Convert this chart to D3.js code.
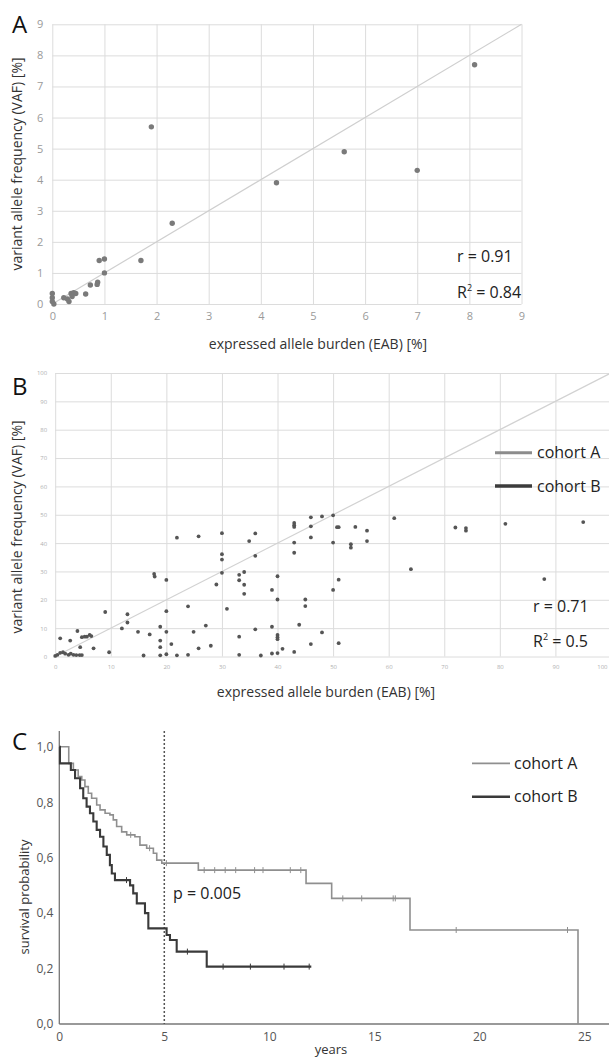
<!DOCTYPE html>
<html><head><meta charset="utf-8">
<script src="https://cdn.jsdelivr.net/npm/d3@7"></script>
<style>body{margin:0;background:#fff} svg{display:block} text{font-family:'Open Sans',sans-serif}</style>
</head><body><svg id="c" width="609" height="1059"></svg>
<script>
// ---------- Panel A data ----------
const aEAB = [8.1,1.9,5.6,7.0,4.3,2.3,1.7,0.9,1.0,1.0,0.87,0.86,0.73,0.64,0,0,0,0.03,0.22,0.29,0.32,0.36,0.41,0.45,0.38];
const aVAF = [7.7,5.7,4.9,4.3,3.9,2.6,1.4,1.4,1.45,1.0,0.7,0.63,0.61,0.32,0.34,0.2,0.08,0,0.2,0.16,0.08,0.34,0.36,0.34,0.24];
const aTicks = [0,1,2,3,4,5,6,7,8,9];

// ---------- Panel B data ----------
const bEAB = [0.9,2.7,4.0,4.5,4.8,5.3,5.7,6.2,6.5,6.9,0,0.4,0.9,1.4,1.8,2.4,2.8,3.3,3.8,4.4,4.8,
  9.0,9.7,12.0,13.0,13.0,14.9,15.9,17.0,17.8,17.9,18.9,18.9,18.9,18.9,20.0,20.0,20.0,20.0,20.9,21.9,21.9,
  23.9,23.9,24.9,25.8,25.8,27.1,28.0,29.0,30.0,30.0,30.0,30.0,30.9,33.1,33.1,33.1,33.1,34.0,34.0,34.0,34.9,
  36.0,36.0,36.0,37.0,39.0,39.0,39.0,40.0,40.0,40.0,40.0,40.0,40.0,40.9,43.0,43.0,43.0,43.0,43.0,43.0,43.9,
  45.0,45.0,46.0,46.0,46.0,46.0,48.0,48.0,50.0,50.0,50.0,50.7,51.0,51.0,51.0,53.2,53.2,54.0,56.1,56.1,
  61.0,64.0,72.0,73.9,73.9,81.0,88.0,95.0];
const bVAF = [6.4,5.6,9.0,3.3,6.8,7.0,7.0,7.6,7.2,2.9,0.2,0.6,1.3,1.5,1.0,0.6,1.0,0.6,0.5,0.5,0.5,
  15.7,1.5,9.9,14.9,12.0,8.7,0.35,7.8,29.1,28.2,10.5,5.6,3.3,0.4,27.0,16.0,8.7,0.8,4.4,41.9,0.4,
  17.7,0.6,8.7,42.4,2.9,10.9,3.8,25.4,43.5,36.1,34.2,29.5,16.8,28.8,26.9,7.0,0.6,29.8,25.3,22.1,40.7,
  43.4,35.5,9.6,0.35,23.5,10.5,1.05,28.3,20.1,7.6,6.8,6.1,1.2,2.7,47.1,46.3,45.7,40.2,36.6,1.6,11.2,
  20.1,17.8,49.1,45.9,42.0,4.4,49.4,8.5,49.8,40.2,23.5,45.6,45.6,27.1,4.7,39.6,38.4,45.7,44.4,40.7,
  48.8,30.8,45.5,45.3,44.4,46.8,27.3,47.4];
const bTicks = [0,10,20,30,40,50,60,70,80,90,100];

// ---------- Panel C data (Kaplan-Meier steps) ----------
const cohortA_time = [0,0.45,0.67,0.9,1.07,1.22,1.38,1.54,1.78,1.94,2.18,2.41,2.57,2.73,2.97,3.21,3.6,3.84,4.16,4.48,4.64,4.88,6.62,11.75,12.97,16.7,24.7];
const cohortA_surv = [1.0,0.94,0.916,0.892,0.88,0.856,0.832,0.814,0.79,0.772,0.76,0.754,0.736,0.712,0.693,0.682,0.675,0.645,0.634,0.616,0.591,0.58,0.555,0.507,0.453,0.339,0.0];
const cohortA_censor = [3.4,4.3,5.1,6.9,7.4,7.9,8.4,9.3,9.7,11.0,11.5,13.5,14.4,15.9,16.0,18.9,24.2];
const cohortB_time = [0,0.03,0.55,0.75,0.99,1.14,1.3,1.46,1.62,1.78,1.94,2.1,2.26,2.41,2.5,2.65,3.37,3.52,3.69,4.08,4.24,5.11,5.27,5.59,7.02,12.0];
const cohortB_surv = [1.0,0.94,0.916,0.886,0.85,0.814,0.784,0.76,0.73,0.70,0.675,0.64,0.61,0.573,0.543,0.519,0.50,0.471,0.435,0.40,0.345,0.321,0.303,0.261,0.207,0.207];
const cohortB_censor = [3.2,6.1,7.8,9.1,10.7,11.9];
const cTicksY = [0,0.2,0.4,0.6,0.8,1.0];
const cTicksX = [0,5,10,15,20,25];

const svg = d3.select('#c');
const GRID = '#dcdcdc';

function styleGrid(g, labelColor, fs){
  g.select('.domain').remove();
  g.selectAll('.tick line').attr('stroke', GRID);
  g.selectAll('.tick text').attr('fill', labelColor).attr('font-size', fs).attr('font-family','Open Sans, sans-serif');
}

// ================= Panel A =================
const xA = d3.scaleLinear().domain([0,9]).range([52.3,521.5]);
const yA = d3.scaleLinear().domain([0,9]).range([304,24.3]);
svg.append('g').attr('transform','translate(52.3,0)')
  .call(d3.axisLeft(yA).tickValues(aTicks).tickSize(-(521.5-52.3)).tickPadding(9))
  .call(g=>styleGrid(g,'#9a9a9a',11));
svg.append('g').attr('transform','translate(0,304)')
  .call(d3.axisBottom(xA).tickValues(aTicks).tickSize(-(304-24.3)).tickPadding(8))
  .call(g=>styleGrid(g,'#9a9a9a',11));
svg.append('line').attr('x1',xA(0)).attr('y1',yA(0)).attr('x2',xA(9)).attr('y2',yA(9))
  .attr('stroke','#cfcfcf').attr('stroke-width',1.2);
svg.append('g').selectAll('circle').data(aEAB).join('circle')
  .attr('cx',(d,i)=>xA(d)).attr('cy',(d,i)=>yA(aVAF[i])).attr('r',2.7).attr('fill','#7a7a7a');
svg.append('text').attr('x',12).attr('y',33).attr('font-size',24).attr('fill','#111').text('A');
svg.append('text').attr('transform','translate(22,164) rotate(-90)').attr('text-anchor','middle')
  .attr('font-size',14).attr('fill','#333').text('variant allele frequency (VAF) [%]');
svg.append('text').attr('x',318).attr('y',349).attr('text-anchor','middle')
  .attr('font-size',14).attr('fill','#333').text('expressed allele burden (EAB) [%]');
svg.append('text').attr('x',457).attr('y',262).attr('font-size',16).attr('fill','#222').text('r = 0.91');
const rA = svg.append('text').attr('x',457).attr('y',298).attr('font-size',16).attr('fill','#222');
rA.append('tspan').text('R');
rA.append('tspan').attr('font-size',9).attr('dy',-7).text('2');
rA.append('tspan').attr('dy',7).text(' = 0.84');

// ================= Panel B =================
const xB = d3.scaleLinear().domain([0,100]).range([55.2,611]);
const yB = d3.scaleLinear().domain([0,100]).range([656.5,373]);
svg.append('g').attr('transform','translate(55.2,0)')
  .call(d3.axisLeft(yB).tickValues(bTicks).tickSize(-(611-55.2)).tickPadding(8))
  .call(g=>styleGrid(g,'#b0b0b0',6));
svg.append('g').attr('transform','translate(0,656.5)')
  .call(d3.axisBottom(xB).tickValues(bTicks).tickSize(-(656.5-373)).tickPadding(8))
  .call(g=>styleGrid(g,'#b0b0b0',6))
  .call(g=>g.selectAll('.tick text').filter(d=>d===100).attr('text-anchor','end').attr('dx',-4));
svg.append('line').attr('x1',xB(0)).attr('y1',yB(0)).attr('x2',xB(100)).attr('y2',yB(100))
  .attr('stroke','#d2d2d2').attr('stroke-width',1.2);
svg.append('g').selectAll('circle').data(bEAB).join('circle')
  .attr('cx',d=>xB(d)).attr('cy',(d,i)=>yB(bVAF[i])).attr('r',1.9).attr('fill','#555');
svg.append('text').attr('x',12).attr('y',395).attr('font-size',24).attr('fill','#111').text('B');
svg.append('text').attr('transform','translate(22,527) rotate(-90)').attr('text-anchor','middle')
  .attr('font-size',14).attr('fill','#333').text('variant allele frequency (VAF) [%]');
svg.append('text').attr('x',326).attr('y',697).attr('text-anchor','middle')
  .attr('font-size',14).attr('fill','#333').text('expressed allele burden (EAB) [%]');
svg.append('text').attr('x',533).attr('y',612).attr('font-size',16).attr('fill','#222').text('r = 0.71');
const rB = svg.append('text').attr('x',533).attr('y',647).attr('font-size',16).attr('fill','#222');
rB.append('tspan').text('R');
rB.append('tspan').attr('font-size',9).attr('dy',-7).text('2');
rB.append('tspan').attr('dy',7).text(' = 0.5');
const legB = [{name:'cohort A',c:'#8c8c8c',w:3,y:452.7},{name:'cohort B',c:'#3c3c3c',w:3.5,y:486}];
legB.forEach(l=>{
  svg.append('line').attr('x1',495).attr('x2',532).attr('y1',l.y).attr('y2',l.y).attr('stroke',l.c).attr('stroke-width',l.w);
  svg.append('text').attr('x',537).attr('y',l.y).attr('dy','0.35em').attr('font-size',16).attr('fill','#222').text(l.name);
});

// ================= Panel C =================
const xC = d3.scaleLinear().domain([0,26]).range([59.3,605.3]);
const yC = d3.scaleLinear().domain([0,1]).range([1024,746.7]);
svg.append('g').attr('transform','translate(59.3,0)')
  .call(d3.axisLeft(yC).tickValues(cTicksY).tickSize(0).tickPadding(6).tickFormat(d=>d.toFixed(1).replace('.',',')))
  .call(g=>{g.select('.domain').remove(); g.selectAll('text').attr('font-size',12).attr('fill','#555');});
svg.append('g').attr('transform','translate(0,1024)')
  .call(d3.axisBottom(xC).tickValues(cTicksX).tickSize(0).tickPadding(8))
  .call(g=>{g.select('.domain').remove(); g.selectAll('text').attr('font-size',12).attr('fill','#555');});
svg.append('line').attr('x1',59.3).attr('x2',59.3).attr('y1',731).attr('y2',1024).attr('stroke','#777').attr('stroke-width',1.3);
svg.append('line').attr('x1',59.3).attr('x2',609).attr('y1',1024).attr('y2',1024).attr('stroke','#777').attr('stroke-width',1.3);
svg.append('line').attr('x1',xC(5)).attr('x2',xC(5)).attr('y1',731).attr('y2',1024)
  .attr('stroke','#555').attr('stroke-width',1.5).attr('stroke-dasharray','2,2');

const km = d3.line().curve(d3.curveStepAfter).x(d=>xC(d[0])).y(d=>yC(d[1]));
const curves = [
  {t:cohortA_time,s:cohortA_surv,cen:cohortA_censor,c:'#8f8f8f',w:1.6},
  {t:cohortB_time,s:cohortB_surv,cen:cohortB_censor,c:'#3a3a3a',w:2.1}
];
curves.forEach(cv=>{
  const pts = cv.t.map((t,i)=>[t,cv.s[i]]);
  svg.append('path').attr('d',km(pts)).attr('fill','none').attr('stroke',cv.c).attr('stroke-width',cv.w);
  const survAt = t=>{let s=cv.s[0]; cv.t.forEach((tt,i)=>{if(tt<=t) s=cv.s[i];}); return s;};
  svg.append('g').selectAll('line').data(cv.cen).join('line')
    .attr('x1',d=>xC(d)).attr('x2',d=>xC(d))
    .attr('y1',d=>yC(survAt(d))-3).attr('y2',d=>yC(survAt(d))+3)
    .attr('stroke',cv.c).attr('stroke-width',1);
});
svg.append('text').attr('x',173).attr('y',893).attr('dy','0.35em').attr('font-size',16).attr('fill','#222').text('p = 0.005');
svg.append('text').attr('x',12).attr('y',750).attr('font-size',24).attr('fill','#111').text('C');
svg.append('text').attr('transform','translate(29,897) rotate(-90)').attr('text-anchor','middle')
  .attr('font-size',13).attr('fill','#333').text('survival probability');
svg.append('text').attr('x',331).attr('y',1054).attr('text-anchor','middle').attr('font-size',13).attr('fill','#333').text('years');
const legC = [{name:'cohort A',c:'#8f8f8f',w:1.8,y:763.3},{name:'cohort B',c:'#3a3a3a',w:2.6,y:796.7}];
legC.forEach(l=>{
  svg.append('line').attr('x1',472).attr('x2',510).attr('y1',l.y).attr('y2',l.y).attr('stroke',l.c).attr('stroke-width',l.w);
  svg.append('text').attr('x',514).attr('y',l.y).attr('dy','0.35em').attr('font-size',16).attr('fill','#222').text(l.name);
});
</script></body></html>
